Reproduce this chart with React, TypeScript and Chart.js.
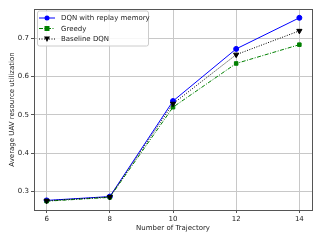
import React, { useEffect, useRef } from "react";
import { Chart, registerables } from "chart.js";
Chart.register(...registerables);

const trajectories = [6, 8, 10, 12, 14];
const dqnReplay = [0.277, 0.287, 0.536, 0.672, 0.753];
const greedy = [0.275, 0.285, 0.52, 0.634, 0.683];
const baseline = [0.276, 0.286, 0.529, 0.657, 0.719];
const seriesNames = ["DQN with replay memory", "Greedy", "Baseline DQN"];
const yTicks = [0.3, 0.4, 0.5, 0.6, 0.7];
const xTicks = [6, 8, 10, 12, 14];
const xTitle = "Number of Trajectory";
const yTitle = "Average UAV resource utilization";

const FONT = "'DejaVu Sans', sans-serif";

function drawMarker(ctx: CanvasRenderingContext2D, style: string, x: number, y: number, r: number, color: string) {
  ctx.save();
  ctx.setLineDash([]);
  ctx.fillStyle = color;
  ctx.strokeStyle = color;
  ctx.beginPath();
  if (style === "circle") {
    ctx.arc(x, y, r, 0, Math.PI * 2);
  } else if (style === "rect") {
    ctx.rect(x - r, y - r, 2 * r, 2 * r);
  } else {
    ctx.moveTo(x - r, y - r * 0.8);
    ctx.lineTo(x + r, y - r * 0.8);
    ctx.lineTo(x, y + r);
    ctx.closePath();
  }
  ctx.fill();
  ctx.restore();
}

const frameLegendPlugin = {
  id: "frameLegend",
  afterDraw(chart: any) {
    const { ctx, chartArea } = chart;
    ctx.save();
    // frame
    ctx.strokeStyle = "#555555";
    ctx.lineWidth = 1;
    ctx.setLineDash([]);
    ctx.strokeRect(
      Math.round(chartArea.left) + 0.5,
      Math.round(chartArea.top) + 0.5,
      Math.round(chartArea.right) - Math.round(chartArea.left),
      Math.round(chartArea.bottom) - Math.round(chartArea.top)
    );
    // legend
    const x0 = chartArea.left + 3;
    const y0 = chartArea.top + 1.5;
    const w = 111;
    const h = 35;
    ctx.fillStyle = "rgba(255,255,255,0.85)";
    ctx.strokeStyle = "#cccccc";
    ctx.beginPath();
    if ((ctx as any).roundRect) (ctx as any).roundRect(x0 + 0.5, y0 + 0.5, w, h, 2);
    else ctx.rect(x0 + 0.5, y0 + 0.5, w, h);
    ctx.fill();
    ctx.stroke();
    chart.data.datasets.forEach((ds: any, i: number) => {
      const y = y0 + 7.5 + i * 10.5;
      ctx.strokeStyle = ds.borderColor;
      ctx.lineWidth = ds.borderWidth;
      ctx.setLineDash(ds.borderDash || []);
      ctx.beginPath();
      ctx.moveTo(x0 + 2, y);
      ctx.lineTo(x0 + 18, y);
      ctx.stroke();
      drawMarker(ctx, ds.pointStyle, x0 + 10, y, ds.pointStyle === "triangle" ? 3 : 2.5, ds.borderColor);
      ctx.fillStyle = "#222222";
      ctx.font = `7px ${FONT}`;
      ctx.textBaseline = "middle";
      ctx.textAlign = "left";
      ctx.fillText(ds.label, x0 + 24, y + 0.5);
    });
    ctx.restore();
  },
};

export default function App() {
  const ref = useRef<HTMLCanvasElement>(null);
  useEffect(() => {
    document.body.style.margin = "0";
    const mk = (vals: number[]) => trajectories.map((x, i) => ({ x, y: vals[i] }));
    const chart = new Chart(ref.current!, {
      type: "line",
      data: {
        datasets: [
          {
            label: seriesNames[0],
            data: mk(dqnReplay),
            borderColor: "#0000ff",
            backgroundColor: "#0000ff",
            borderWidth: 1,
            pointStyle: "circle",
            pointRadius: 2.5,
            borderDash: [],
            order: 3,
          },
          {
            label: seriesNames[1],
            data: mk(greedy),
            borderColor: "#008000",
            backgroundColor: "#008000",
            borderWidth: 1,
            pointStyle: "rect",
            pointRadius: 2.5,
            borderDash: [4, 1.5, 1, 1.5],
            order: 2,
          },
          {
            label: seriesNames[2],
            data: mk(baseline),
            borderColor: "#000000",
            backgroundColor: "#000000",
            borderWidth: 1,
            pointStyle: "triangle",
            pointRotation: 180,
            pointRadius: 3,
            borderDash: [1, 1.5],
            order: 1,
          },
        ] as any,
      },
      options: {
        animation: false,
        responsive: false,
        layout: { padding: { top: 9, right: 8, left: 8, bottom: 8 } },
        plugins: { legend: { display: false }, tooltip: { enabled: false } },
        elements: { line: { tension: 0 } },
        scales: {
          x: {
            type: "linear",
            min: 5.6,
            max: 14.4,
            afterBuildTicks: (s: any) => {
              s.ticks = xTicks.map((v) => ({ value: v }));
            },
            afterFit: (s: any) => {
              s.height = 22;
            },
            grid: { color: "#c8c8c8", tickColor: "#555555", tickLength: 3, lineWidth: 1 },
            border: { display: false },
            ticks: { color: "#222222", font: { family: FONT, size: 7 }, padding: 2, maxRotation: 0 },
            title: { display: true, text: xTitle, color: "#222222", font: { family: FONT, size: 7 }, padding: { top: 1, bottom: 0 } },
          },
          y: {
            type: "linear",
            min: 0.252,
            max: 0.776,
            afterBuildTicks: (s: any) => {
              s.ticks = yTicks.map((v) => ({ value: v }));
            },
            afterFit: (s: any) => {
              s.width = 26;
            },
            grid: { color: "#c8c8c8", tickColor: "#555555", tickLength: 3, lineWidth: 1 },
            border: { display: false },
            ticks: {
              color: "#222222",
              font: { family: FONT, size: 7 },
              padding: 2,
              callback: (v: any) => Number(v).toFixed(1),
            },
            title: { display: true, text: yTitle, color: "#222222", font: { family: FONT, size: 7 }, padding: { top: 0, bottom: 2 } },
          },
        },
      } as any,
      plugins: [frameLegendPlugin],
    });
    return () => chart.destroy();
  }, []);
  return (
    <div style={{ width: 320, height: 240 }}>
      <canvas ref={ref} width={320} height={240} />
    </div>
  );
}
